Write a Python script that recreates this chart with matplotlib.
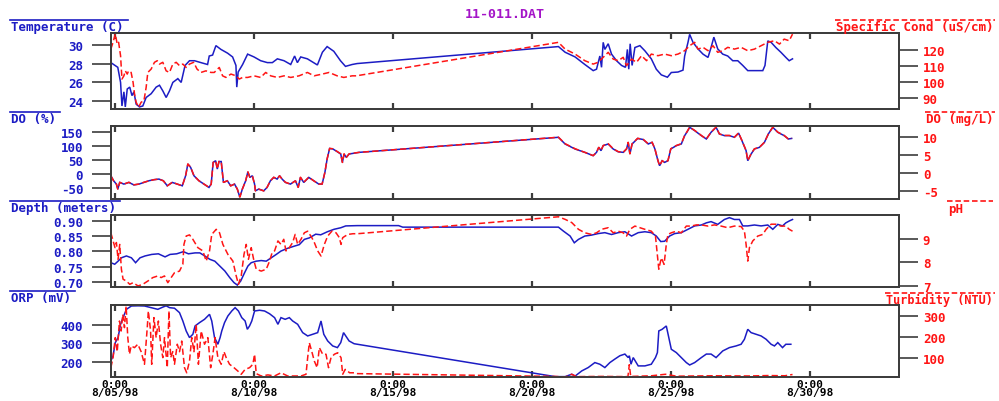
import matplotlib
matplotlib.use('Agg')
import matplotlib.pyplot as plt
from matplotlib.lines import Line2D

# ---------------- data (days since 8/05/98 0:00) ----------------
temp_t = [-0.15,0.1,0.2,0.25,0.32,0.37,0.44,0.53,0.61,0.68,0.76,0.88,1.0,1.12,1.3,1.48,1.6,1.72,1.84,1.96,
          2.08,2.26,2.38,2.52,2.68,2.86,3.09,3.33,3.39,3.51,3.63,3.81,4.05,4.23,4.35,4.38,4.43,4.59,4.77,5.0,
          5.24,5.48,5.66,5.84,6.08,6.32,6.46,6.56,6.68,6.92,7.28,7.46,7.63,7.87,8.11,8.29,8.53,8.71,
          15.95,16.19,16.55,16.9,17.2,17.32,17.44,17.5,17.56,17.62,17.74,17.86,18.04,18.22,18.36,18.43,18.48,18.53,18.6,18.7,
          18.88,19.06,19.29,19.47,19.65,19.87,20.01,20.25,20.43,20.49,20.61,20.67,20.79,20.97,21.15,21.33,21.44,21.54,21.68,21.86,
          22.04,22.22,22.4,22.58,22.76,23.0,23.3,23.38,23.48,23.6,23.77,23.95,24.13,24.25,24.37]
temp_v = [28.1,27.6,26.0,23.5,25.0,23.4,25.3,25.5,24.6,25.0,23.7,23.4,23.5,24.4,24.8,25.5,25.7,25.1,24.4,25.1,
          26.0,26.4,26.0,27.8,28.3,28.3,28.1,27.9,28.8,28.9,29.9,29.5,29.1,28.7,27.8,25.5,27.1,27.9,29.0,28.7,
          28.3,28.1,28.1,28.5,28.3,27.9,28.8,28.1,28.7,28.5,27.85,29.2,29.8,29.3,28.3,27.7,27.9,28.0,
          29.8,29.2,28.7,27.9,27.25,27.4,28.8,27.6,30.25,29.5,30.1,29.0,28.3,27.8,27.6,29.5,27.4,30.1,27.8,29.7,
          29.9,29.35,28.5,27.4,26.8,26.55,27.05,27.1,27.3,28.8,30.25,31.1,30.25,29.55,29.0,28.65,29.7,30.8,29.55,29.0,
          28.8,28.3,28.3,27.8,27.25,27.25,27.25,27.8,30.4,30.25,29.7,29.2,28.65,28.3,28.5]

cond_t = [-0.15,-0.07,0.01,0.08,0.13,0.2,0.25,0.32,0.37,0.44,0.49,0.58,0.65,0.71,0.76,0.85,0.94,1.04,1.12,1.18,
          1.3,1.42,1.52,1.6,1.72,1.84,1.96,2.08,2.2,2.32,2.44,2.56,2.68,2.83,2.95,3.09,3.27,3.45,3.57,3.75,
          3.87,3.99,4.17,4.35,4.47,4.59,4.77,5.0,5.24,5.42,5.6,5.84,6.08,6.32,6.62,6.92,7.16,7.46,7.7,7.99,
          8.23,8.53,8.68,
          15.95,16.19,16.55,16.9,17.2,17.38,17.56,17.74,17.92,18.1,18.28,18.4,18.58,18.76,18.94,19.12,19.29,19.53,19.77,20.01,
          20.25,20.49,20.67,20.85,20.97,21.15,21.33,21.51,21.68,21.86,22.04,22.28,22.52,22.76,23.0,23.24,23.48,23.72,23.9,24.07,
          24.25,24.37]
cond_v = [120.6,124.8,130.0,123.7,124.8,116.5,102.0,104.0,107.1,105.1,107.1,106.1,100.0,91.6,87.6,84.5,87.6,88.5,96.8,106.1,
          108.2,112.4,113.4,111.3,112.4,107.1,106.1,111.3,112.4,110.3,111.3,109.2,111.3,112.4,108.2,106.1,107.1,106.1,106.1,109.2,
          104.0,103.0,105.1,104.0,102.0,103.0,103.0,104.0,103.0,106.1,104.0,103.0,104.0,103.0,104.0,106.1,104.0,105.1,106.1,104.0,
          103.0,104.0,104.0,
          124.8,120.6,117.5,113.4,111.3,112.4,115.5,118.6,114.4,113.4,115.5,110.3,114.4,112.4,116.5,113.4,117.5,116.5,117.5,116.5,
          117.5,119.6,122.7,124.8,120.6,121.7,119.6,122.7,118.6,119.6,121.7,120.6,121.7,119.6,120.6,122.7,124.8,125.8,123.7,126.8,
          125.8,129.9]

do_t = [-0.15,-0.05,0.05,0.1,0.17,0.32,0.5,0.68,0.86,1.04,1.22,1.4,1.58,1.74,1.88,2.06,2.24,2.42,2.54,2.62,
        2.72,2.84,3.02,3.2,3.38,3.46,3.53,3.62,3.68,3.74,3.82,3.9,4.04,4.16,4.3,4.4,4.49,4.58,4.7,4.78,
        4.85,4.94,5.02,5.05,5.17,5.35,5.47,5.59,5.71,5.83,5.92,6.01,6.13,6.31,6.49,6.59,6.67,6.79,6.97,7.15,
        7.33,7.45,7.55,7.63,7.72,7.84,8.0,8.12,8.18,8.24,8.32,8.42,8.6,8.78,
        15.95,16.19,16.55,16.9,17.2,17.32,17.4,17.48,17.56,17.74,17.92,18.1,18.28,18.4,18.46,18.52,18.6,18.8,19.0,19.18,
        19.32,19.42,19.53,19.59,19.68,19.77,19.89,19.99,20.19,20.37,20.49,20.58,20.67,20.85,21.09,21.27,21.44,21.62,21.74,21.92,
        22.1,22.28,22.43,22.55,22.7,22.76,22.88,23.0,23.18,23.36,23.5,23.66,23.84,24.07,24.22,24.34]
do_pct = [-6,-24,-36,-54,-30,-36,-30,-39,-36,-30,-24,-20,-18,-24,-42,-30,-36,-42,-6,36,
          24,-6,-24,-36,-48,-36,42,48,18,45,45,-30,-24,-42,-36,-54,-83,-54,-24,8,
          -12,-6,-36,-60,-54,-60,-48,-24,-12,-18,-6,-18,-30,-36,-24,-48,-12,-30,-12,-24,
          -36,-36,6,54,92,90,80,72,42,72,60,72,75,78,
          132,108,90,78,66,78,96,84,102,108,90,80,78,90,114,72,108,128,124,108,
          114,90,48,30,48,42,48,90,102,108,138,152,168,156,138,126,150,168,144,138,
          138,132,147,120,84,48,72,90,96,114,144,168,150,138,126,128]
do_mgl = [-0.7,-2.1,-3.0,-4.4,-2.5,-3.0,-2.5,-3.2,-3.0,-2.5,-2.1,-1.8,-1.6,-2.1,-3.5,-2.5,-3.0,-3.5,-0.7,2.6,
          1.7,-0.7,-2.1,-3.0,-3.9,-3.0,3.0,3.5,1.2,3.3,3.3,-2.5,-2.1,-3.5,-3.0,-4.4,-6.6,-4.4,-2.1,0.4,
          -1.1,-0.7,-3.0,-4.9,-4.4,-4.9,-3.9,-2.1,-1.1,-1.6,-0.7,-1.6,-2.5,-3.0,-2.1,-3.9,-1.1,-2.5,-1.1,-2.1,
          -3.0,-3.0,0.3,4.0,6.9,6.8,6.0,5.4,3.0,5.4,4.4,5.4,5.6,5.8,
          10.0,8.2,6.8,5.8,4.9,5.8,7.2,6.3,7.7,8.2,6.8,6.0,5.8,6.8,8.6,5.4,8.2,9.7,9.4,8.2,
          8.6,6.8,3.5,2.1,3.5,3.0,3.5,6.8,7.7,8.2,10.5,11.6,12.8,11.9,10.5,9.5,11.4,12.8,10.9,10.5,
          10.5,10.0,11.2,9.1,6.3,3.5,5.4,6.8,7.2,8.6,10.9,12.8,11.4,10.5,9.5,9.7]

depth_t = [-0.15,-0.01,0.11,0.23,0.41,0.59,0.74,0.9,1.08,1.32,1.56,1.8,1.98,2.22,2.46,2.64,2.88,3.05,3.23,3.41,
           3.59,3.77,3.95,4.13,4.28,4.4,4.52,4.66,4.78,4.9,5.08,5.26,5.44,5.62,5.8,5.97,6.21,6.45,6.63,6.81,
           6.99,7.22,7.4,7.64,7.88,8.12,8.3,8.72,10.2,10.35,
           15.95,16.13,16.37,16.52,16.67,16.9,17.14,17.38,17.62,17.86,18.1,18.34,18.58,18.82,19.06,19.29,19.47,19.63,19.77,19.95,
           20.13,20.37,20.61,20.85,21.09,21.27,21.44,21.68,21.92,22.1,22.28,22.46,22.58,22.76,23.0,23.24,23.48,23.66,23.84,24.01,
           24.13,24.25,24.37]
depth_v = [0.763,0.758,0.768,0.779,0.785,0.779,0.763,0.779,0.785,0.790,0.792,0.782,0.790,0.792,0.799,0.792,0.795,0.795,0.785,0.774,
           0.768,0.752,0.736,0.714,0.698,0.690,0.703,0.730,0.752,0.763,0.768,0.770,0.768,0.779,0.790,0.801,0.810,0.817,0.822,0.839,
           0.844,0.856,0.854,0.864,0.872,0.877,0.883,0.884,0.884,0.879,
           0.879,0.866,0.850,0.828,0.839,0.850,0.853,0.858,0.861,0.855,0.861,0.864,0.850,0.861,0.864,0.861,0.850,0.832,0.833,0.850,
           0.858,0.861,0.872,0.883,0.886,0.893,0.897,0.888,0.904,0.910,0.904,0.904,0.883,0.883,0.886,0.883,0.886,0.872,0.888,0.883,
           0.893,0.899,0.904]

ph_t = [-0.15,-0.07,0.0,0.05,0.11,0.17,0.23,0.29,0.41,0.53,0.65,0.83,1.0,1.18,1.36,1.54,1.66,1.78,1.9,2.02,
        2.14,2.32,2.44,2.48,2.56,2.68,2.8,2.98,3.16,3.28,3.4,3.48,3.64,3.76,3.88,4.06,4.24,4.36,4.44,4.54,
        4.64,4.72,4.8,4.9,5.0,5.08,5.26,5.44,5.56,5.65,5.74,5.86,5.97,6.07,6.15,6.27,6.39,6.48,6.57,6.69,
        6.81,6.93,7.08,7.17,7.29,7.41,7.53,7.65,7.8,7.95,8.07,8.13,8.19,8.28,8.38,8.56,8.72,
        15.95,16.19,16.43,16.67,16.9,17.14,17.32,17.5,17.74,17.92,18.1,18.28,18.4,18.52,18.7,18.88,19.06,19.29,19.44,19.47,
        19.56,19.65,19.75,19.83,19.89,20.01,20.19,20.37,20.55,20.73,20.91,21.09,21.33,21.56,21.8,22.04,22.28,22.52,22.64,22.7,
        22.76,22.82,22.94,23.12,23.3,23.42,23.6,23.78,23.95,24.13,24.25,24.37]
ph_v = [9.28,8.93,8.64,8.86,8.14,8.78,7.71,7.28,7.2,7.06,7.13,6.99,7.06,7.2,7.35,7.42,7.35,7.42,7.13,7.35,
        7.56,7.63,7.92,8.78,9.14,9.19,9.0,8.64,8.5,8.06,8.5,9.21,9.43,9.28,8.78,8.35,8.06,7.42,7.06,7.42,
        8.35,8.78,8.14,8.64,8.06,7.71,7.63,7.71,8.06,8.42,8.5,8.93,8.78,9.0,8.5,8.64,8.86,9.21,8.78,9.0,
        9.28,9.35,9.07,8.86,8.5,8.28,8.78,9.14,9.35,9.28,9.07,8.78,9.07,9.14,9.21,9.24,9.24,
        9.97,9.86,9.72,9.43,9.28,9.21,9.28,9.43,9.5,9.28,9.35,9.28,9.14,9.43,9.57,9.5,9.43,9.35,9.14,8.78,
        7.71,8.2,7.92,8.78,9.21,9.28,9.35,9.28,9.57,9.57,9.62,9.62,9.57,9.62,9.57,9.5,9.57,9.55,9.35,8.78,
        8.06,8.64,8.93,9.14,9.21,9.43,9.65,9.65,9.57,9.57,9.43,9.35]

orp_t = [-0.15,-0.07,0.01,0.11,0.2,0.29,0.41,0.59,0.83,1.06,1.3,1.54,1.72,1.84,1.96,2.14,2.32,2.44,2.56,2.68,
         2.8,2.88,3.04,3.22,3.4,3.48,3.58,3.7,3.78,3.84,3.94,4.06,4.2,4.32,4.44,4.56,4.68,4.76,4.84,4.92,
         5.02,5.2,5.38,5.56,5.74,5.86,5.97,6.12,6.27,6.39,6.57,6.75,6.93,7.11,7.29,7.41,7.51,7.65,7.83,8.0,
         8.12,8.22,8.3,8.42,8.6,8.72,
         15.83,16.19,16.43,16.55,16.79,17.02,17.26,17.44,17.62,17.8,17.98,18.16,18.34,18.46,18.5,18.56,18.64,18.82,19.06,19.29,
         19.44,19.51,19.56,19.68,19.83,19.92,20.01,20.19,20.37,20.55,20.67,20.85,21.09,21.27,21.44,21.62,21.86,22.1,22.34,22.52,
         22.64,22.76,22.88,23.06,23.24,23.42,23.6,23.72,23.84,24.01,24.13,24.31]
orp_v = [204,231,303,330,402,438,483,501,502,501,492,483,495,502,492,489,465,420,366,330,
         348,393,411,429,456,420,330,294,330,366,411,447,474,492,474,438,420,375,393,420,
         474,478,474,459,438,402,438,429,438,420,402,357,339,348,357,420,348,312,285,276,
         303,357,339,312,297,294,
         119,119,132,122,150,168,195,186,168,195,214,232,241,222,232,186,222,177,177,186,
         222,249,366,375,393,330,267,249,222,195,182,195,222,241,241,222,258,276,285,294,
         321,375,357,348,339,321,294,285,303,276,294,294]

turb_t = [-0.15,-0.07,0.01,0.08,0.16,0.22,0.28,0.34,0.4,0.46,0.52,0.58,0.7,0.82,0.94,1.06,1.16,1.2,1.28,1.32,
          1.4,1.48,1.56,1.64,1.72,1.78,1.88,1.94,2.0,2.08,2.14,2.24,2.32,2.4,2.5,2.58,2.68,2.76,2.84,2.92,
          3.0,3.1,3.22,3.34,3.44,3.52,3.6,3.7,3.82,3.92,4.0,4.12,4.28,4.42,4.54,4.68,4.84,4.96,5.02,5.08,
          5.26,5.5,5.74,5.97,6.21,6.45,6.69,6.87,6.93,6.99,7.08,7.17,7.27,7.35,7.47,7.59,7.68,7.77,7.89,8.01,
          8.13,8.19,8.28,8.44,8.6,8.72,
          15.83,16.19,16.43,16.6,17.5,18.45,18.5,18.55,18.6,19.3,19.8,20.2,21.5,22.8,23.5,24.1,24.37]
turb_v = [56,103,197,131,275,228,306,244,345,197,119,158,150,166,131,72,244,322,228,72,
          291,197,275,166,103,197,56,322,103,131,72,166,131,181,56,32,87,197,131,259,
          72,228,166,197,56,119,197,103,72,131,103,72,56,40,25,48,56,72,119,28,
          17,22,17,32,17,17,17,25,103,173,131,87,56,150,119,119,56,103,119,126,
          103,25,48,32,32,28,
          15,12,25,14,15,14,70,14,15,18,25,16,18,17,19,18,24]

x_ticks = [0, 5, 10, 15, 20, 25]
x_ticklabels = ['0:00\n8/05/98', '0:00\n8/10/98', '0:00\n8/15/98',
                '0:00\n8/20/98', '0:00\n8/25/98', '0:00\n8/30/98']

left_titles = ['Temperature (C)', 'DO (%)', 'Depth (meters)', 'ORP (mV)']
right_titles = ['Specific Cond (uS/cm)', 'DO (mg/L)', 'pH', 'Turbidity (NTU)']

left_ticks = [[24, 26, 28, 30], [-50, 0, 50, 100, 150],
              [0.70, 0.75, 0.80, 0.85, 0.90], [200, 300, 400]]
left_ticklabels = [['24', '26', '28', '30'], ['-50', '0', '50', '100', '150'],
                   ['0.70', '0.75', '0.80', '0.85', '0.90'], ['200', '300', '400']]
right_ticks = [[90, 100, 110, 120], [-5, 0, 5, 10], [7, 8, 9], [100, 200, 300]]
right_ticklabels = [['90', '100', '110', '120'], ['-5', '0', '5', '10'],
                    ['7', '8', '9'], ['100', '200', '300']]

title = '11-011.DAT'

# ---------------- styling / layout ----------------
plt.rcParams['lines.scale_dashes'] = False
plt.rcParams['font.family'] = ['DejaVu Sans Mono', 'DejaVu Sans']
plt.rcParams['font.weight'] = 'bold'

W, H = 999, 402
fig = plt.figure(figsize=(W / 100, H / 100), dpi=100)
fig.patch.set_facecolor('white')

BLUE = '#1c1cc4'
RED = '#ff1414'
FRAME = '#3c3c3c'
PURPLE = '#a414c8'
DASH = (0, (4.5, 2.2))

L, R = 111, 899
rows = [(34, 110), (126.7, 200), (215.7, 288), (305.7, 378)]
xlim = (-0.144, 28.2)
left_lims = [(23.18, 31.24), (-89.5, 173.7), (0.6837, 0.9196), (117, 508)]
right_lims = [(83.4, 130.6), (-7.14, 13.2), (6.944, 10.06), (12.2, 351.6)]

series = [(temp_t, temp_v, cond_t, cond_v),
          (do_t, do_pct, do_t, do_mgl),
          (depth_t, depth_v, ph_t, ph_v),
          (orp_t, orp_v, turb_t, turb_v)]

left_title_y = [28, 119.8, 209, 298.8]
right_title_y = [27.7, 120, 209.3, 300.8]
right_title_size = [9, 9, 9, 8.5]


def rect(top, bot):
    return [L / W, 1 - bot / H, (R - L) / W, (bot - top) / H]


for i, (top, bot) in enumerate(rows):
    bt, bv, rt, rv = series[i]
    ax = fig.add_axes(rect(top, bot))
    ax.plot(bt, bv, color=BLUE, lw=1.1, solid_joinstyle='miter')
    ax.set_xlim(*xlim)
    ax.set_ylim(*left_lims[i])
    ax.set_yticks(left_ticks[i])
    ax.set_yticklabels(left_ticklabels[i], color=BLUE, fontsize=9, fontweight='bold')
    ax.tick_params(axis='y', direction='out', length=13.5, width=1.2, color=FRAME, pad=6.5)
    ax.set_xticks(x_ticks)
    ax.tick_params(axis='x', direction='in', length=4, width=1.6, color=FRAME,
                   top=True, bottom=True, pad=1.5)
    if i < 3:
        ax.set_xticklabels([])
    else:
        ax.set_xticklabels(x_ticklabels, fontsize=8, fontweight='bold',
                           color='black', linespacing=0.8)
    ax2 = ax.twinx()
    ax2.plot(rt, rv, color=RED, lw=1.1, linestyle=DASH)
    ax2.set_ylim(*right_lims[i])
    ax2.set_yticks(right_ticks[i])
    ax2.set_yticklabels(right_ticklabels[i], color=RED, fontsize=9, fontweight='bold')
    ax2.tick_params(axis='y', direction='out', length=13.5, width=1.2, color=FRAME, pad=3.6)
    for a in (ax, ax2):
        for s in a.spines.values():
            s.set_color(FRAME)
            s.set_linewidth(1.3)

# titles
fig.text(505 / W, 1 - 14.5 / H, title, color=PURPLE, ha='center', va='center',
         fontsize=9.5, fontweight='bold')

ltexts = []
rtexts = []
for i in range(4):
    t = fig.text(11 / W, 1 - left_title_y[i] / H, left_titles[i], color=BLUE,
                 ha='left', va='center', fontsize=9, fontweight='bold')
    ltexts.append(t)
    if right_titles[i] == 'pH':
        t2 = fig.text(948 / W, 1 - right_title_y[i] / H, right_titles[i], color=RED,
                      ha='left', va='center', fontsize=right_title_size[i], fontweight='bold')
    else:
        t2 = fig.text(993 / W, 1 - right_title_y[i] / H, right_titles[i], color=RED,
                      ha='right', va='center', fontsize=right_title_size[i], fontweight='bold')
    rtexts.append(t2)

fig.canvas.draw()
renderer = fig.canvas.get_renderer()
for t in ltexts:
    bb = t.get_window_extent(renderer)
    y = (bb.y1 + 0.5) / H
    fig.add_artist(Line2D([(bb.x0 - 1) / W, (bb.x1 + 4) / W], [y, y],
                          transform=fig.transFigure, color=BLUE, lw=1.2))
for t in rtexts:
    bb = t.get_window_extent(renderer)
    y = (bb.y1 + 0.5) / H
    x1 = 993 if t.get_text() == 'pH' else bb.x1 + 2
    fig.add_artist(Line2D([(bb.x0 - 1) / W, x1 / W], [y, y],
                          transform=fig.transFigure, color=RED, lw=1.2,
                          linestyle=(0, (4, 2))))

fig.savefig('out.png', dpi=100, facecolor='white')
